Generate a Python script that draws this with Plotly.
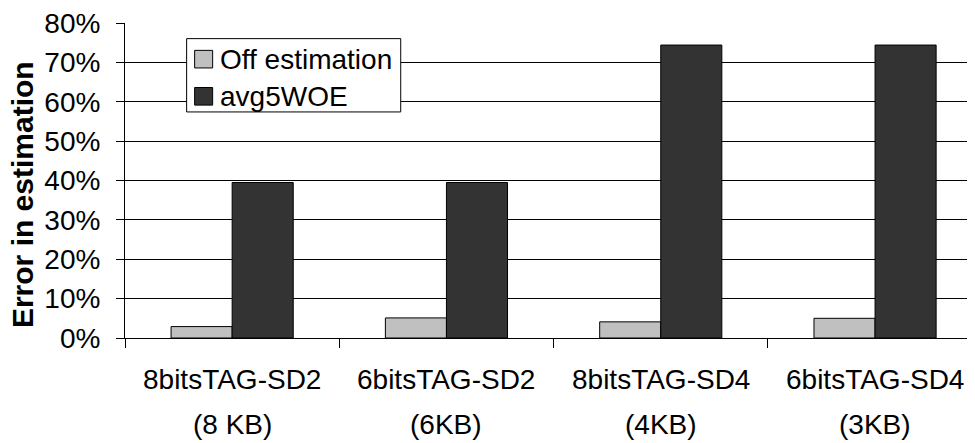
import plotly.graph_objects as go

# ---- data ----
categories = ["8bitsTAG-SD2", "6bitsTAG-SD2", "8bitsTAG-SD4", "6bitsTAG-SD4"]
sizes = ["(8 KB)", "(6KB)", "(4KB)", "(3KB)"]
series_names = ["Off estimation", "avg5WOE"]
off_estimation = [0.029, 0.051, 0.041, 0.050]
avg5woe = [0.395, 0.395, 0.744, 0.744]
y_ticks = [0, 0.1, 0.2, 0.3, 0.4, 0.5, 0.6, 0.7, 0.8]
y_title = "Error in estimation"

# ---- geometry / style (screen pixels; page body has an 8px margin) ----
OFF = 8
SW, SH = 975, 443
PL, PT, PR, PB = 125.4, 16, 975, 338.3   # plot area in screen pixels
W, H = SW - OFF, SH - OFF
PW = PR - PL
PH = PB - PT
FONT = "Liberation Sans, Arial, sans-serif"
FS = 28
LIGHT = "#c0c0c0"
DARK = "#333333"


def px(xs):
    return (xs - PL) / PW


def py(ys):
    return (PB - ys) / PH


fig = go.Figure()
fig.add_trace(go.Bar(x=categories, y=off_estimation, name=series_names[0],
                     marker=dict(color=LIGHT, line=dict(color="black", width=1)),
                     showlegend=False))
fig.add_trace(go.Bar(x=categories, y=avg5woe, name=series_names[1],
                     marker=dict(color=DARK, line=dict(color="black", width=1)),
                     showlegend=False))

annotations = []
for c, s in zip(categories, sizes):
    annotations.append(dict(x=c, xref="x", y=py(381), yref="paper", text=c,
                            showarrow=False, xanchor="center", yanchor="middle",
                            font=dict(size=FS, color="black", family=FONT)))
    annotations.append(dict(x=c, xref="x", y=py(427), yref="paper", text=s,
                            showarrow=False, xanchor="center", yanchor="middle",
                            font=dict(size=FS, color="black", family=FONT)))

annotations.append(dict(x=px(22.5), xref="paper", y=py(192), yref="paper", text="<b>%s</b>" % y_title,
                        textangle=-90, showarrow=False, xanchor="center", yanchor="middle",
                        font=dict(size=30, color="black", family=FONT)))

# custom legend
shapes = [dict(type="rect", xref="paper", yref="paper",
               x0=px(187), x1=px(401), y0=py(107), y1=py(32),
               line=dict(color="black", width=1), fillcolor="white", layer="above")]
leg_rows = [(LIGHT, 44, 62, 53), (DARK, 82, 100, 91)]
for (col, y0, y1, yc), name in zip(leg_rows, series_names):
    shapes.append(dict(type="rect", xref="paper", yref="paper",
                       x0=px(195), x1=px(213), y0=py(y1), y1=py(y0),
                       line=dict(color="black", width=1), fillcolor=col, layer="above"))
    annotations.append(dict(x=px(218), xref="paper", y=py(yc), yref="paper", text=name,
                            showarrow=False, xanchor="left", yanchor="middle",
                            font=dict(size=FS, color="black", family=FONT)))

fig.update_layout(
    width=W, height=H,
    margin=dict(l=PL - OFF, r=0, t=PT - OFF, b=SH - PB, pad=0),
    paper_bgcolor="white", plot_bgcolor="white",
    barmode="group", bargap=0.43, bargroupgap=0,
    font=dict(family=FONT, size=FS, color="black"),
    annotations=annotations, shapes=shapes,
    xaxis=dict(type="category", range=[-0.5, -0.5 + PW / 214.2],
               showline=True, linecolor="black", linewidth=1,
               ticks="outside", tickson="boundaries", ticklen=9, tickcolor="black",
               showticklabels=False, showgrid=False, zeroline=False),
    yaxis=dict(range=[0, 0.8], tickvals=y_ticks, tickformat=".0%",
               showline=True, linecolor="black", linewidth=1,
               ticks="outside", ticklen=8, tickcolor="black",
               showgrid=True, gridcolor="black", gridwidth=1, zeroline=False,
               ticklabelstandoff=10, ticklabeloverflow="allow",
               tickfont=dict(size=FS, family=FONT, color="black")),
)

fig.write_html("out.html")
